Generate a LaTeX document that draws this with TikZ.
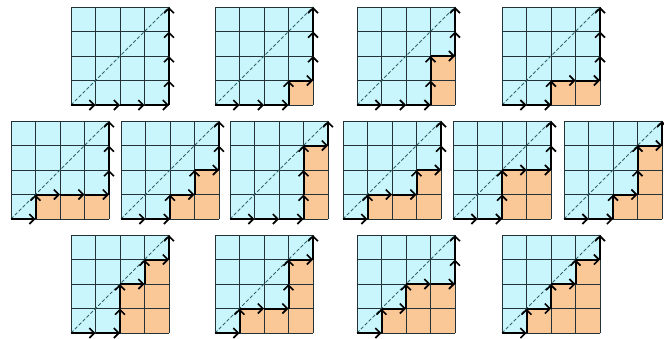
\documentclass[tikz,border=0pt]{standalone}
\usetikzlibrary{arrows.meta}
\definecolor{cellblue}{RGB}{200,246,252}
\definecolor{cellorange}{RGB}{250,200,150}
\definecolor{gridline}{RGB}{35,50,55}
\definecolor{diagline}{RGB}{50,100,110}
\tikzset{
 pathstep/.style={line width=2pt, black, -{Straight Barb[length=5pt,width=10pt,line width=1.6pt]}},
 gridl/.style={gridline, line width=1pt},
 diag/.style={diagline, dash pattern=on 3.5pt off 2pt, line width=1pt},
}
\newcommand\dyck[6]{%
 \begin{scope}[shift={(#1pt,-#2pt)}, x=24.5pt, y=24.5pt]
  \fill[cellblue] (0,0) rectangle (4,4);
  \foreach \c/\h in {0/#3,1/#4,2/#5,3/#6}{\fill[cellorange] (\c,0) rectangle (\c+1,\h);}
  \foreach \i in {0,...,4}{\draw[gridl] (\i,0) -- (\i,4); \draw[gridl] (0,\i) -- (4,\i);}
  \draw[diag] (0,0) -- (4,4);
  \foreach \c/\p/\h in {0/0/#3,1/#3/#4,2/#4/#5,3/#5/#6,4/#6/4}{
    \ifnum\h>\p\relax
      \pgfmathtruncatemacro\hm{\h-1}
      \foreach \k in {\p,...,\hm}{\draw[pathstep] (\c,\k) -- (\c,\k+1);}
    \fi
    \ifnum\c<4\relax \draw[pathstep] (\c,\h) -- (\c+1,\h);\fi
  }
 \end{scope}}
\begin{document}
\begin{tikzpicture}
\fill[white] (0pt,0pt) rectangle (664pt,-338pt);
\useasboundingbox (0pt,0pt) rectangle (664pt,-338pt);
\dyck{71}{105}{0}{0}{0}{0}
\dyck{215}{105}{0}{0}{0}{1}
\dyck{357}{105}{0}{0}{0}{2}
\dyck{502}{105}{0}{0}{1}{1}
\dyck{11}{219}{0}{1}{1}{1}
\dyck{121}{219}{0}{0}{1}{2}
\dyck{230}{219}{0}{0}{0}{3}
\dyck{343}{219}{0}{1}{1}{2}
\dyck{453}{219}{0}{0}{2}{2}
\dyck{564}{219}{0}{0}{1}{3}
\dyck{71}{333}{0}{0}{2}{3}
\dyck{215}{333}{0}{1}{1}{3}
\dyck{357}{333}{0}{1}{2}{2}
\dyck{502}{333}{0}{1}{2}{3}
\end{tikzpicture}
\end{document}
